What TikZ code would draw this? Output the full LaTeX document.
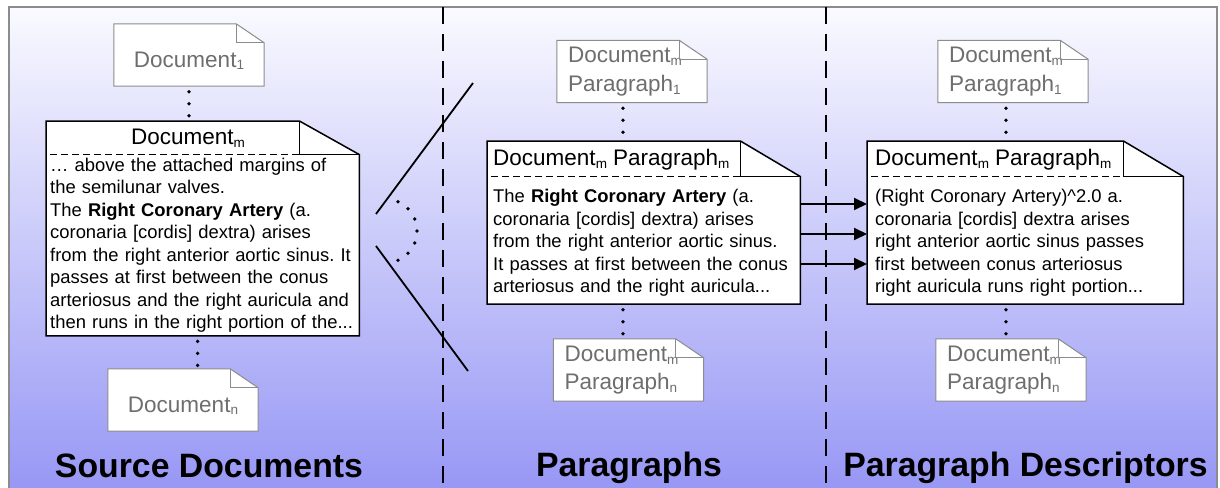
\documentclass[tikz,border=0pt]{standalone}
\usepackage{fontspec}
\setmainfont{Liberation Sans}
\usepackage{graphicx}
\usepackage{tikz}
\usetikzlibrary{shapes.multipart, arrows.meta, positioning}

\pgfdeclarelayer{background}
\pgfsetlayers{background,main}

\definecolor{skytop}{RGB}{250,250,255}
\definecolor{skybot}{RGB}{150,150,245}

\newcommand{\lowidx}[1]{\raisebox{-0.25ex}{\scalebox{0.6}{#1}}}
\newcommand{\bodysize}{\fontsize{18.4}{22.5}\selectfont\frenchspacing}
\newcommand{\titlesize}{\fontsize{22.5}{28.5}\selectfont}
\newcommand{\headsize}{\fontsize{33.8}{40}\selectfont\bfseries}
\newcommand{\titlestrut}{\rule[-7pt]{0pt}{27pt}}

% dog-eared frame for the small stubs
\newcommand{\stubframe}[1]{%
  \begin{pgfonlayer}{background}
    \draw[stubline, fill=white] (#1.north west) -- ([xshift=-28pt]#1.north east)
      -- ([yshift=-19pt]#1.north east) -- (#1.south east) -- (#1.south west) -- cycle;
  \end{pgfonlayer}
  \draw[stubline] ([xshift=-28pt]#1.north east) |- ([yshift=-19pt]#1.north east);
}
% dog-eared frame with title rule for the big boxes
\newcommand{\cardframe}[1]{%
  \begin{pgfonlayer}{background}
    \draw[boxline, fill=white] (#1.north west) -- ([xshift=-60pt]#1.north east)
      -- (#1.text split east) -- (#1.south east) -- (#1.south west) -- cycle;
  \end{pgfonlayer}
  \draw[titlerule] ([xshift=4pt]#1.text split west) -- (#1.text split east);
  \draw[boxline] ([xshift=-60pt]#1.north east) |- (#1.text split east);
}

\begin{document}
\begin{tikzpicture}[x=1pt, y=-1pt,
    stub/.style={rectangle, minimum width=150pt, minimum height=62pt, inner xsep=11pt,
      text width=128pt, align=left, text=black!57, font=\titlesize},
    bigbox/.style={rectangle split, rectangle split parts=2, anchor=north west,
      inner xsep=6pt, inner ysep=4pt, align=left, font=\bodysize},
    stubline/.style={draw=black!45, line width=1pt},
    boxline/.style={draw=black, line width=1.5pt},
    titlerule/.style={black, line width=1pt, dash pattern=on 7pt off 4pt},
    dots/.style={line width=3.8pt, line cap=round, dash pattern=on 0pt off 12pt, dash phase=6.5pt},
    feed/.style={-{Triangle[length=13pt, width=12pt]}, line width=2pt},
    divider/.style={line width=2pt, dash pattern=on 17pt off 10pt},
    heading/.style={anchor=base, font=\headsize}
  ]
  \useasboundingbox (0,0) rectangle (1220,487);

  % backdrop
  \begin{pgfonlayer}{background}
    \shade[top color=skytop, bottom color=skybot] (9,7) rectangle (1217,495);
    \draw[black!45, line width=1.5pt] (9,495) -- (9,7) -- (1217,7) -- (1217,495);
  \end{pgfonlayer}

  % source documents
  \node[stub, align=center] (doc1) at (189,55) {\rule{0pt}{27pt}Document\lowidx{1}};
  \node[bigbox, inner xsep=4pt, inner ysep=3pt, text width=305pt] (docm) at (46,121)
    {\titlesize\titlestrut\hspace*{81pt}Document\lowidx{m}
     \nodepart{two}
     … above the attached margins of\\
     the semilunar valves.\\
     The \textbf{Right Coronary Artery} (a.\\
     coronaria [cordis] dextra) arises\\
     from the right anterior aortic sinus. It\\
     passes at first between the conus\\
     arteriosus and the right auricula and\\
     then runs in the right portion of the...};
  \node[stub, align=center] (docn) at (183,400) {\rule{0pt}{27pt}Document\lowidx{n}};

  % paragraphs
  \node[stub] (para1) at (632,71.5) {Document\lowidx{m}\\Paragraph\lowidx{1}};
  \node[bigbox, text width=301pt] (para) at (487,141)
    {\titlesize\titlestrut Document\lowidx{m} Paragraph\lowidx{m}
     \nodepart{two}
     \rule{0pt}{22pt}The \textbf{Right Coronary Artery} (a.\\
     coronaria [cordis] dextra) arises\\
     from the right anterior aortic sinus.\\
     It passes at first between the conus\\
     arteriosus and the right auricula...\rule[-7pt]{0pt}{0pt}};
  \node[stub] (paran) at (628.5,370) {Document\lowidx{m}\\Paragraph\lowidx{n}};

  % paragraph descriptors
  \node[stub] (desc1) at (1013,71.5) {Document\lowidx{m}\\Paragraph\lowidx{1}};
  \node[bigbox, inner xsep=8pt, text width=300pt] (desc) at (867,141)
    {\titlesize\titlestrut Document\lowidx{m} Paragraph\lowidx{m}
     \nodepart{two}
     \rule{0pt}{22pt}(Right Coronary Artery)\textasciicircum 2.0 a.\\
     coronaria [cordis] dextra arises\\
     right anterior aortic sinus passes\\
     first between conus arteriosus\\
     right auricula runs right portion...\rule[-7pt]{0pt}{0pt}};
  \node[stub] (descn) at (1011,370) {Document\lowidx{m}\\Paragraph\lowidx{n}};

  \stubframe{doc1}
  \stubframe{docn}
  \stubframe{para1}
  \stubframe{paran}
  \stubframe{desc1}
  \stubframe{descn}
  \cardframe{docm}
  \cardframe{para}
  \cardframe{desc}

  % elision dots
  \coordinate (dm) at ([xshift=-5pt]docm.south);
  \coordinate (pt) at ([xshift=-9pt]para1.south);
  \coordinate (dt) at ([xshift=-7pt]desc1.south);
  \draw[dots] (doc1.south) -- (doc1.south |- docm.north);
  \draw[dots] (dm) -- (dm |- docn.north);
  \draw[dots] (pt) -- (pt |- para.north);
  \draw[dots] (pt |- para.south) -- (pt |- paran.north);
  \draw[dots] (dt) -- (dt |- desc.north);
  \draw[dots] (dt |- desc.south) -- (dt |- descn.north);

  % splitting a document into paragraphs
  \draw[line width=1.8pt] (376,214) -- (473,83);
  \draw[line width=1.8pt] (376,246) -- (468,371);
  \foreach \a in {-66,-44,...,66}
    \fill (385,231) ++(\a:32) circle (1.9pt);

  % paragraph -> descriptor
  \foreach \y in {204,234,264}
    \draw[feed] (para.east |- 0,\y) -- (desc.west |- 0,\y);

  % column separators
  \draw[divider] (443,7) -- (443,487);
  \draw[divider] (826,7) -- (826,487);

  % column headings
  \node[heading] (srchead) at (209,477) {Source Documents};
  \node[heading] (parhead) at (629,476) {Paragraphs};
  \node[heading] (deshead) at (1025.5,476) {Paragraph Descriptors};
\end{tikzpicture}
\end{document}
